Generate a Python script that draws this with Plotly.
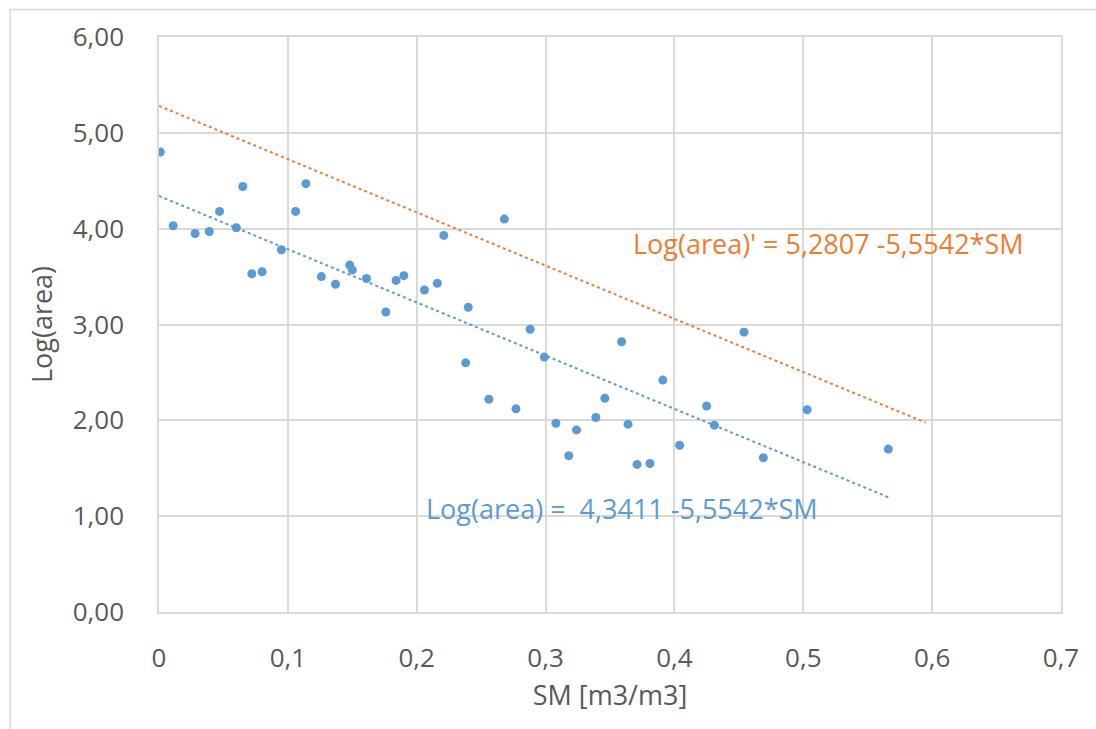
import plotly.graph_objects as go

# Data
sm = [0.001, 0.011, 0.028, 0.039, 0.047, 0.060, 0.065, 0.072, 0.080, 0.095,
      0.106, 0.114, 0.126, 0.137, 0.148, 0.150, 0.161, 0.176, 0.184, 0.190,
      0.206, 0.216, 0.221, 0.240, 0.268, 0.288, 0.238, 0.299, 0.256, 0.277,
      0.308, 0.324, 0.339, 0.346, 0.359, 0.364, 0.318, 0.371, 0.381, 0.391,
      0.404, 0.425, 0.431, 0.454, 0.469, 0.503, 0.566]
log_area = [4.80, 4.03, 3.95, 3.97, 4.18, 4.01, 4.44, 3.53, 3.55, 3.78,
            4.18, 4.47, 3.50, 3.42, 3.62, 3.57, 3.48, 3.13, 3.46, 3.51,
            3.36, 3.43, 3.93, 3.18, 4.10, 2.95, 2.60, 2.66, 2.22, 2.12,
            1.97, 1.90, 2.03, 2.23, 2.82, 1.96, 1.63, 1.54, 1.55, 2.42,
            1.74, 2.15, 1.95, 2.92, 1.61, 2.11, 1.70]

# Trend line parameters
blue_intercept, blue_slope = 4.3411, -5.5542
orange_intercept, orange_slope = 5.2807, -5.5542
blue_x = [0.0, 0.566]
orange_x = [0.0, 0.595]

blue_label = "Log(area) =  4,3411 -5,5542*SM"
orange_label = "Log(area)' = 5,2807 -5,5542*SM"

x_ticks = [0, 0.1, 0.2, 0.3, 0.4, 0.5, 0.6, 0.7]
y_ticks = [0, 1, 2, 3, 4, 5, 6]

BLUE = "#5B9BD5"
ORANGE = "#ED7D31"
GRAY = "#595959"
GRID = "#D9D9D9"
FONT = "Open Sans"

fig = go.Figure()

fig.add_trace(go.Scatter(
    x=blue_x, y=[blue_intercept + blue_slope * v for v in blue_x],
    mode="lines", line=dict(color=BLUE, width=2, dash="dot"),
    showlegend=False, hoverinfo="skip"))
fig.add_trace(go.Scatter(
    x=orange_x, y=[orange_intercept + orange_slope * v for v in orange_x],
    mode="lines", line=dict(color=ORANGE, width=2, dash="dot"),
    showlegend=False, hoverinfo="skip"))
fig.add_trace(go.Scatter(
    x=sm, y=log_area, mode="markers",
    marker=dict(color=BLUE, size=9, line=dict(width=0)),
    showlegend=False))

fig.add_annotation(x=0.5195, y=3.85, xref="x", yref="y", text=orange_label,
                   showarrow=False, xanchor="center", yanchor="middle",
                   font=dict(family=FONT, size=27, color=ORANGE))
fig.add_annotation(x=0.359, y=1.08, xref="x", yref="y", text=blue_label,
                   showarrow=False, xanchor="center", yanchor="middle",
                   font=dict(family=FONT, size=27, color=BLUE))

# outer chart border
fig.add_shape(type="rect", xref="paper", yref="paper",
              x0=-0.165, x1=1.2, y0=-0.4, y1=1.048,
              line=dict(color=GRID, width=1.5), layer="below")

fig.update_layout(
    width=1096, height=729,
    margin=dict(l=159, r=35, t=37, b=117),
    paper_bgcolor="white", plot_bgcolor="white",
    separators=", ",
    font=dict(family=FONT, color=GRAY),
    xaxis=dict(range=[0, 0.7], tickvals=x_ticks, tickformat=".1~f",
               showgrid=True, gridcolor=GRID, gridwidth=1.5,
               showline=True, linecolor=GRID, linewidth=1.5, mirror=True,
               zeroline=False, ticks="outside", ticklen=22,
               tickcolor="rgba(0,0,0,0)",
               tickfont=dict(family=FONT, size=26, color=GRAY),
               title=dict(text="SM [m3/m3]", standoff=12,
                          font=dict(family=FONT, size=27, color=GRAY))),
    yaxis=dict(range=[0, 6], tickvals=y_ticks, tickformat=".2f",
               showgrid=True, gridcolor=GRID, gridwidth=1.5,
               showline=True, linecolor=GRID, linewidth=1.5, mirror=True,
               zeroline=False, ticks="outside", ticklen=28,
               tickcolor="rgba(0,0,0,0)",
               tickfont=dict(family=FONT, size=26, color=GRAY),
               title=dict(text="Log(area)", standoff=12,
                          font=dict(family=FONT, size=27, color=GRAY))),
)

fig.write_html("out.html")
